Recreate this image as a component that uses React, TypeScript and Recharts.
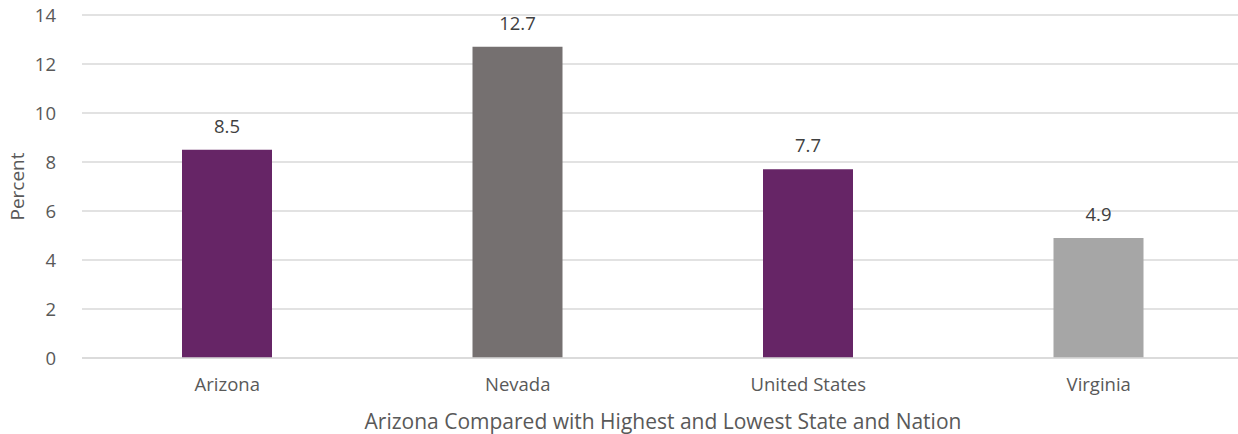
import { BarChart, Bar, XAxis, YAxis, CartesianGrid, Cell, LabelList } from "recharts";

const categories = ["Arizona", "Nevada", "United States", "Virginia"];
const values = [8.5, 12.7, 7.7, 4.9];
const barColors = ["#662566", "#757070", "#662566", "#a6a6a6"];
const yTicks = [0, 2, 4, 6, 8, 10, 12, 14];

const data = categories.map((name, i) => ({ name, value: values[i] }));

const font = "'Open Sans', 'Noto Sans', sans-serif";

export default function App() {
  return (
    <div style={{ position: "absolute", left: 0, top: 0, width: 1238, height: 434, overflow: "hidden", fontFamily: font }}>
      <BarChart
        width={1238}
        height={434}
        data={data}
        margin={{ top: 15, right: -6, left: 0, bottom: 0 }}
        barSize={90}
      >
        <CartesianGrid vertical={false} stroke="#d9d9d9" strokeWidth={1.5} />
        <XAxis
          dataKey="name"
          tickLine={false}
          axisLine={{ stroke: "#d9d9d9", strokeWidth: 1.5 }}
          tick={{ fill: "#595959", fontSize: 18.5, fontFamily: font }}
          tickMargin={14}
          label={{
            value: "Arizona Compared with Highest and Lowest State and Nation",
            position: "insideBottom",
            offset: 5,
            fill: "#595959",
            fontSize: 21,
            fontFamily: font,
          }}
          height={76}
        />
        <YAxis
          domain={[0, 14]}
          ticks={yTicks}
          interval={0}
          width={82}
          tickLine={false}
          axisLine={false}
          tick={{ fill: "#595959", fontSize: 18.5, fontFamily: font }}
          tickMargin={20}
          label={{
            value: "Percent",
            angle: -90,
            position: "center",
            dx: -24,
            fill: "#595959",
            fontSize: 19,
            fontFamily: font,
          }}
        />
        <Bar dataKey="value" isAnimationActive={false}>
          {data.map((d, i) => (
            <Cell key={d.name} fill={barColors[i]} />
          ))}
          <LabelList
            dataKey="value"
            position="top"
            offset={17}
            fill="#404040"
            fontSize={18.5}
            fontFamily={font}
          />
        </Bar>
      </BarChart>
    </div>
  );
}
